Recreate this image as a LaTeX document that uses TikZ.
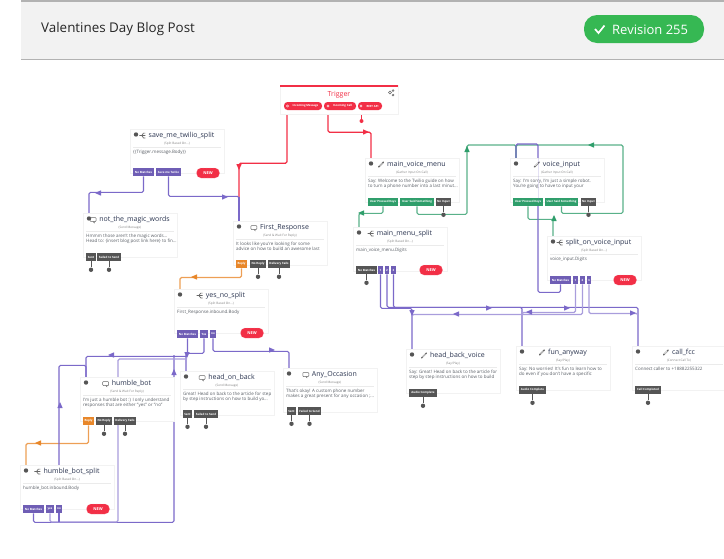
\documentclass[tikz,border=0pt]{standalone}
\usepackage{fontspec}
\setmainfont{Open Sans}
\usetikzlibrary{positioning,shadows,backgrounds}

\definecolor{vio}{HTML}{7B69C9}
\definecolor{redline}{HTML}{F22F46}
\definecolor{grn}{HTML}{2F9E6B}
\definecolor{org}{HTML}{E8872A}
\definecolor{darkport}{HTML}{555555}
\definecolor{titleink}{HTML}{2B3550}
\definecolor{bodyink}{HTML}{5A5F66}
\definecolor{pillgreen}{HTML}{36B853}

\tikzset{
    cardbox/.style={draw=black!5, fill=white, anchor=north west, minimum width=94pt, minimum height=44pt, inner sep=0pt,
        drop shadow={shadow xshift=0.3pt, shadow yshift=-0.7pt, opacity=0.3, fill=black!40}},
    cardtitle/.style={font=\fontsize{7}{8}\selectfont, text=titleink, inner sep=0pt},
    cardsub/.style={font=\fontsize{3.1}{3.6}\selectfont, text=black!50, inner sep=0pt},
    cardbody/.style={font=\fontsize{4.5}{5.6}\selectfont, text=bodyink, align=left, anchor=north west, inner sep=0pt},
    dotmark/.style={circle, fill=darkport, minimum size=4.4pt, inner sep=0pt},
    vport/.style={fill=vio!90!black},
    dport/.style={fill=darkport},
    gport/.style={fill=grn},
    oport/.style={fill=org},
    portbox/.style={text=white, inner sep=0pt, minimum height=8.4pt, font=\fontsize{2.9}{3.2}\selectfont\bfseries},
    newbadge/.style={fill=redline, draw=redline!45, densely dotted, rounded corners=4.5pt, minimum width=23pt, minimum height=10pt, inner sep=0pt, text=white, font=\fontsize{4}{4.4}\selectfont\bfseries},
    pillbox/.style={fill=redline, rounded corners=3.5pt, minimum height=8pt, inner sep=0pt, text=white, font=\fontsize{2.8}{3.1}\selectfont\bfseries},
    vline/.style={draw=vio, line width=1.1pt, rounded corners=1.5pt},
    vlight/.style={draw=vio!65, line width=1.2pt, rounded corners=1.5pt},
    rline/.style={draw=redline, line width=1.2pt, rounded corners=1.5pt},
    gline/.style={draw=grn!80, line width=1.1pt, rounded corners=1.5pt},
    oline/.style={draw=org!80, line width=1.2pt, rounded corners=1.5pt},
    bubble/.pic={\draw[black!60, line width=0.5pt, rounded corners=0.8pt] (-3,-2) rectangle (3,2); \draw[black!60, line width=0.5pt] (0,2) -- (1.2,3.2) -- (1.2,2);},
    phone/.pic={\draw[black!60, line width=1.4pt, line cap=round] (-2.3,2.3) -- (2.3,-2.3); \draw[white, line width=0.6pt] (-1.4,1.4) -- (1.4,-1.4);},
    branch/.pic={\draw[black!60, line width=0.7pt] (-3,0) -- (-0.8,0) -- (1,-2.4) -- (3,-2.4) (-0.8,0) -- (1,2.4) -- (3,2.4) (-0.8,0) -- (3,0);},
}

% one block: name, left, top, icon, title, subtitle, text
\newcommand{\card}[7]{
    \node[cardbox] (#1) at (#2,#3) {};
    \coordinate (#1in) at ({#2+6},#3);
    \node[dotmark] (#1dot) at ({#2+6},{#3+5.5}) {};
    \node[cardtitle] (#1title) at ({#2+51.5},{#3+6.5}) {#5};
    \coordinate[left=6pt of #1title.west] (#1icon);
    \pic at (#1icon) {#4};
    \node[cardsub] (#1sub) at ({#2+47},{#3+14.5}) {#6};
    \draw[black!8, line width=0.3pt] ({#2+3},{#3+18}) -- ({#2+91},{#3+18});
    \node[cardbody] (#1body) at ({#2+3},{#3+20.5}) {#7};
}
% one output: name, left, right, top, text
\newcommand{\outport}[6][vport]{
    \node[portbox,#1,minimum width={(#4-#3)*1pt}] (#2) at ({(#3+#4)/2},{#5+4}) {#6};
}
\newcommand{\portdot}[1]{
    \node[dotmark,below=6pt of #1] (#1dot) {};
    \draw[darkport, line width=0.9pt] (#1.south) -- (#1dot);
}
\newcommand{\newtag}[3]{
    \node[newbadge] (#1) at (#2,#3) {NEW};
}
\newcommand{\midtip}[4]{
    \fill[#1, shift={(#2,#3)}, rotate=#4] (-3,-2.7) -- (3,0) -- (-3,2.7) -- cycle;
}

\begin{document}
\begin{tikzpicture}[x=1pt,y=-1pt]
    \useasboundingbox (0,0) rectangle (724,558);

    % header
    \fill[black!30] (20.5,0) rectangle (724,60);
    \fill[black!5] (21,2) rectangle (724,59);
    \node[anchor=west, inner sep=0pt, font=\fontsize{13.4}{15}\selectfont, text=black!85] (pagetitle) at (41,29.5) {Valentines Day Blog Post};
    \node[fill=pillgreen, rounded corners=13pt, minimum width=120pt, minimum height=28pt, inner sep=0pt] (revpill) at (644,29) {};
    \node[anchor=west, inner sep=0pt, font=\fontsize{13}{15}\selectfont, text=white] (revtext) at (612,29.5) {Revision 255};
    \draw[white, line width=1.7pt] (595,29) -- (598.5,33) -- (604.5,25.5);

    % trigger
    \node[draw=black!5, fill=white, anchor=north west, minimum width=118pt, minimum height=29pt, inner sep=0pt, drop shadow={shadow xshift=0.2pt, shadow yshift=-0.8pt, opacity=0.25, fill=black!40}] (trigger) at (280,85) {};
    \fill[redline] (280,85) rectangle (398,87);
    \node[inner sep=0pt, font=\fontsize{7}{8}\selectfont, text=redline] (triggertitle) at (339,94.5) {Trigger};
    \node[pillbox, minimum width=38pt] (pillmessage) at (303,106) {\hspace{5pt}Incoming Message};
    \node[pillbox, minimum width=32pt] (pillcall) at (340,106) {\hspace{5pt}Incoming Call};
    \node[pillbox, minimum width=24pt] (pillrest) at (370,106) {\hspace{5pt}REST API};
    \draw[white, line width=0.3pt] (287.5,106) circle (1.2) (328,106) circle (1.2) (361,106) circle (1.2);
    \draw[black!60, line width=0.5pt] (390,92.5) circle (1.5) (393,90.5) circle (0.9) (393,95) circle (0.9);
    \node[circle, fill=redline, minimum size=4pt, inner sep=0pt] (restdot) at (361.5,121) {};

    %blocks
    \card{save}{130}{129}{branch}{save\_me\_twilio\_split}{(Split Based On...)}{\{\{Trigger.message.Body\}\}}
    \card{magic}{83}{213}{bubble}{not\_the\_magic\_words}{(Send Message)}{Hmmm those aren't the magic words...\\Head to: \{insert blog post link here\} to fin...}
    \card{first}{233}{221}{bubble}{First\_Response}{(Send \& Wait For Reply)}{It looks like you're looking for some\\advice on how to build an awesome last}
    \card{yesno}{174}{289}{branch}{yes\_no\_split}{(Split Based On...)}{First\_Response.inbound.Body}
    \card{humble}{80}{377}{bubble}{humble\_bot}{(Send \& Wait For Reply)}{I'm just a humble bot :) I only understand\\responses that are either "yes" or "no"}
    \card{headon}{180}{371}{bubble}{head\_on\_back}{(Send Message)}{Great! Head on back to the article for step\\by step instructions on how to build yo...}
    \card{any}{283}{368}{bubble}{Any\_Occasion}{(Send Message)}{That's okay! A custom phone number\\makes a great present for any occasion ;...}
    \card{hsplit}{20}{465}{branch}{humble\_bot\_split}{(Split Based On...)}{humble\_bot.inbound.Body}
    \card{menu}{365}{158}{phone}{main\_voice\_menu}{(Gather Input On Call)}{Say: Welcome to the Twilio guide on how\\to turn a phone number into a last minut...}
    \card{voice}{510}{158}{phone}{voice\_input}{(Gather Input On Call)}{Say: I'm sorry, I'm just a simple robot.\\You're going to have to input your}
    \card{msplit}{353}{227}{branch}{main\_menu\_split}{(Split Based On...)}{main\_voice\_menu.Digits}
    \card{vsplit}{547}{236}{branch}{split\_on\_voice\_input}{(Split Based On...)}{voice\_input.Digits}
    \card{headback}{406}{349}{phone}{head\_back\_voice}{(Say/Play)}{Say: Great! Head on back to the article for\\step by step instructions on how to build}
    \card{fun}{516}{346}{phone}{fun\_anyway}{(Say/Play)}{Say: No worries! It's fun to learn how to\\do even if you don't have a specific}
    \card{callf}{632}{346}{phone}{call\_fcc}{(Connect Call To)}{Connect caller to +18882255322}

    %outputs
    \outport{savematch}{133}{154}{168}{No Matches}
    \outport{savetwilio}{156}{181}{168}{Save me Twilio}
    \newtag{savenew}{208}{173}
    \outport[dport]{magicsent}{86}{96}{253}{Sent}
    \outport[dport]{magicfail}{97}{121}{253}{Failed to Send}
    \portdot{magicsent} \portdot{magicfail}
    \outport[oport]{firstreply}{236}{247}{260}{Reply}
    \outport[dport]{firstnone}{250}{266}{260}{No Reply}
    \outport[dport]{firstfail}{268}{290}{260}{Delivery Fails}
    \portdot{firstnone} \portdot{firstfail}
    \outport{yesmatch}{177}{198}{330}{No Matches}
    \outport{yesyes}{200}{208}{330}{Yes}
    \outport{yesno}{210}{216}{330}{no}
    \newtag{yesnew}{252}{333}
    \outport[oport]{humreply}{83}{94}{417}{Reply}
    \outport[dport]{humnone}{96}{112}{417}{No Reply}
    \outport[dport]{humfail}{114}{136}{417}{Delivery Fails}
    \portdot{humnone} \portdot{humfail}
    \outport[dport]{headsent}{183}{192}{410}{Sent}
    \outport[dport]{headfail}{194}{218}{410}{Failed to Send}
    \portdot{headsent} \portdot{headfail}
    \outport[dport]{anysent}{287}{296}{407}{Sent}
    \outport[dport]{anyfail}{298}{321}{407}{Failed to Send}
    \portdot{anysent} \portdot{anyfail}
    \outport{hmatch}{23}{44}{505}{No Matches}
    \outport{hyes}{46}{54}{505}{yes}
    \outport{hno}{56}{62}{505}{no}
    \newtag{hnew}{98}{509}
    \outport[gport]{menupress}{368}{398}{198}{User Pressed Keys}
    \outport[gport]{menusaid}{400}{434}{198}{User Said Something}
    \outport[dport]{menunone}{436}{451}{198}{No Input}
    \portdot{menunone}
    \outport[gport]{voicepress}{513}{543}{198}{User Pressed Keys}
    \outport[gport]{voicesaid}{545}{578}{198}{User Said Something}
    \outport[dport]{voicenone}{581}{596}{198}{No Input}
    \portdot{voicenone}
    \outport[dport]{mmatch}{356}{377}{266}{No Matches}
    \outport{mone}{378}{383}{266}{1}
    \outport{mtwo}{385}{389}{266}{2}
    \outport{mthree}{391}{396}{266}{3}
    \portdot{mmatch}
    \newtag{mnew}{431}{270}
    \outport{vmatch}{550}{571}{276}{No Matches}
    \outport{vone}{573}{578}{276}{1}
    \outport{vtwo}{580}{585}{276}{2}
    \outport{vthree}{587}{591}{276}{3}
    \newtag{vnew}{625}{280}
    \outport[dport]{backdone}{409}{437}{389}{Audio Complete}
    \outport[dport]{fundone}{519}{546}{386}{Audio Complete}
    \outport[dport]{calldone}{635}{661}{386}{Call Completed}
    \portdot{backdone} \portdot{fundone} \portdot{calldone}

    % turning points
    \coordinate (joinfirst) at (239,197);
    \coordinate (joinhumble) at (174,355);
    \coordinate (joinhead) at (187,359);
    \coordinate (yesbend) at (118,522);
    \coordinate (greentop) at (467,145);
    \coordinate (greenright) at (623,145);
    \coordinate (vtop) at (538,144);

    \begin{pgfonlayer}{background}
        %red
        \draw[rline] ([xshift=-16pt]pillmessage.south) -- ++(0,53) -| (joinfirst);
        \draw[rline] ([xshift=-12pt]pillcall.south) -- ++(0,22) -| (menuin);
        \draw[redline, line width=0.8pt] ([xshift=-8.5pt]pillrest.south) -- (restdot);

        %orange
        \draw[oline] (firstreply.south) -- ++(0,9) -| (yesnoin);
        \draw[oline] (humreply.south) -- ++(0,18) -| (hsplitin);

        %green
        \draw[gline] (menupress.south) -- ++(0,7) -| (msplitin);
        \draw[gline] (menusaid.south) -- ++(0,8) -| (greentop) -| (voicein);
        \draw[gline] (voicesaid.south) -- ++(0,7) -| (greenright) -| (voicein);
        \draw[gline] (voicepress.south) -- ++(0,13) -| (vsplitin);

        %purple
        \draw[vline] (joinfirst) -- (firstin);
        \draw[vline] (savematch.south) -- ++(0,16) -| (magicin);
        \draw[vline] (savetwilio.south) -- ++(0,20) -| (joinfirst);
        \draw[vline] (yesmatch.south) -- ++(0,18) -| (humblein);
        \draw[vline] (yesyes.south) -- ++(0,15) -| (headonin);
        \draw[vline] (yesno.south) -- ++(0,13) -| (anyin);
        \draw[vline] (hmatch.south) -- ++(0,9) -| (joinhumble);
        \draw[vlight] (hyes.south) |- (yesbend) |- (joinhead);
        \draw[vline] (hno.south) -- ++(0,9);
        \draw[vline] (hno.south) -- ++(0,-148) -| (humblein);
        \draw[vline] (vmatch.south) -- ++(0,8) -| (vtop) -| (voicein);
        \draw[vline] (mone.south) -- ++(0,34) -| (headbackin);
        \draw[vline] (mtwo.south) -- ++(0,33) -| (callfin);
        \draw[vline] (mthree.south) -- ++(0,33) -| (funin);
        \draw[vlight] (vone.south) -- ++(0,28) -| (funin);
        \draw[vlight] (vtwo.south) -- ++(0,30) -| (headbackin);
        \draw[vlight] (vthree.south) -- ++(0,29) -| (callfin);
    \end{pgfonlayer}

    % faint through the voice block
    \draw[vio, opacity=0.2, line width=1pt] ([yshift=-14pt]vtop) -- ([yshift=-58pt]vtop);

    %arrowheads
    \midtip{redline}{239}{167}{270}
    \midtip{redline}{366}{132}{0}
    \midtip{org}{194}{277}{180}
    \midtip{org}{38}{443}{180}
    \midtip{grn}{361}{213}{180}
    \midtip{grn}{467}{149}{90}
    \midtip{grn}{591}{145}{180}
    \midtip{grn}{554}{218}{90}
    \midtip{vio}{98}{193}{180}
    \midtip{vio}{225}{197}{0}
    \midtip{vio}{187}{355}{270}
    \midtip{vio}{111}{355}{180}
    \midtip{vio}{60}{405}{90}
    \midtip{vio}{174}{372}{90}
    \midtip{vio}{272}{350}{0}
    \midtip{vio}{489}{308}{0}
    \midtip{vio}{567}{308}{0}
    \midtip{vio}{456}{314}{180}
    \midtip{vio}{529}{312}{180}
    \midtip{vio}{633}{313}{0}
    \midtip{vio}{412}{313}{270}
\end{tikzpicture}
\end{document}
